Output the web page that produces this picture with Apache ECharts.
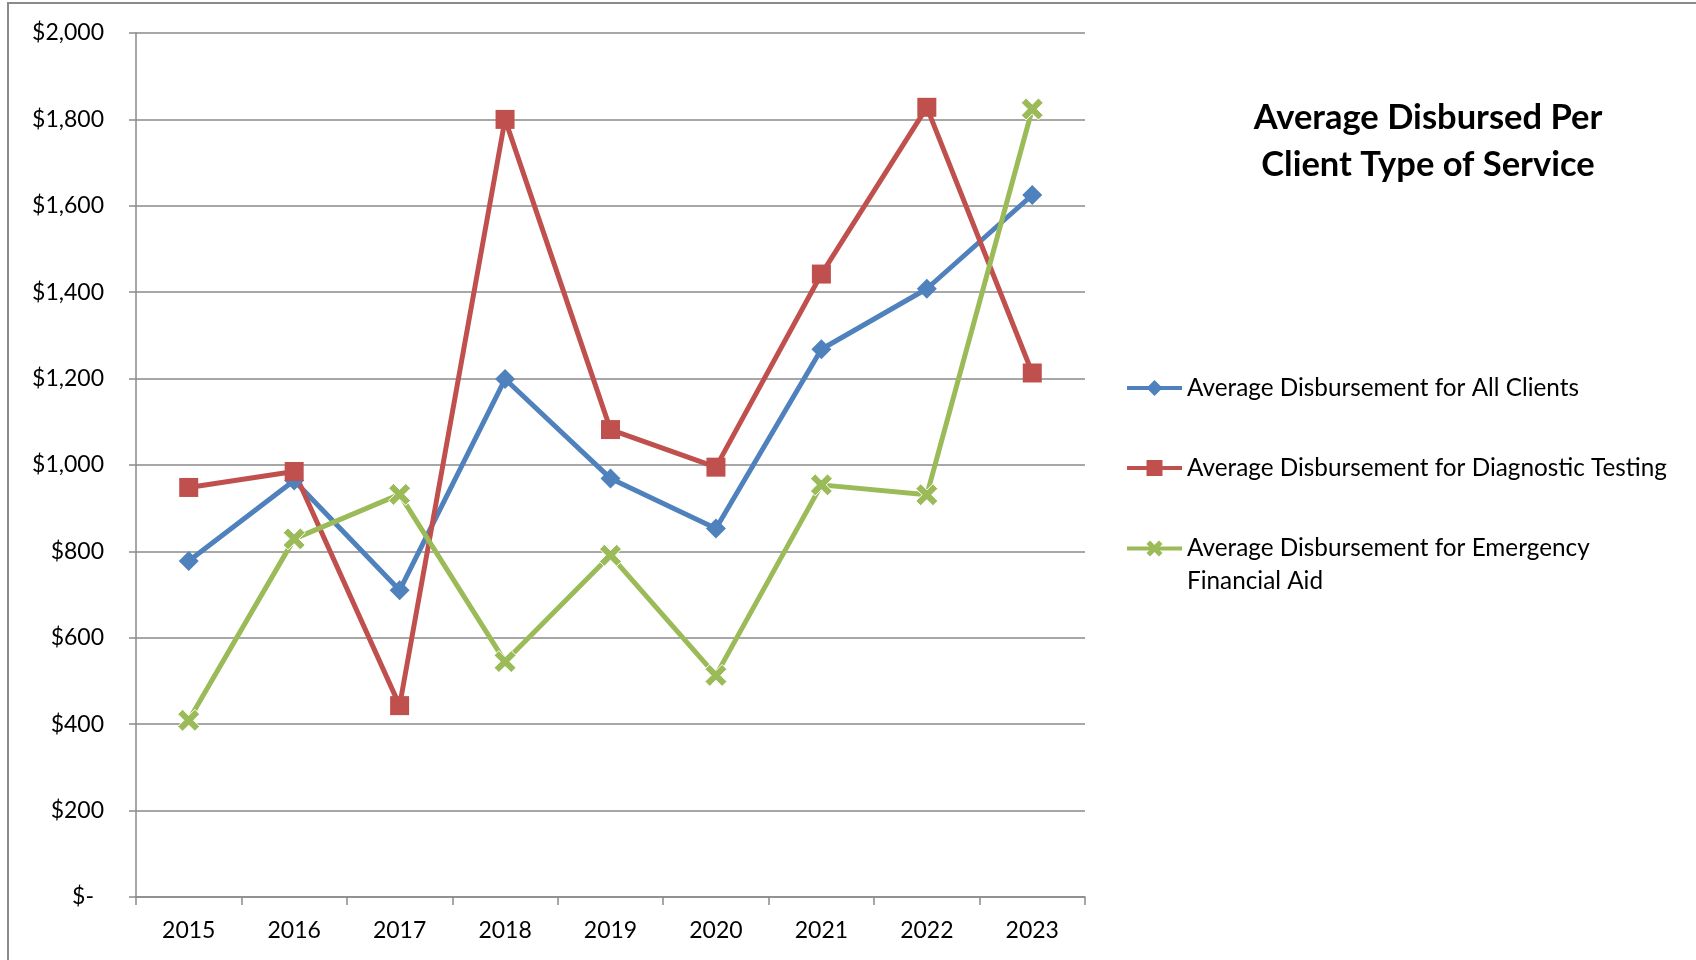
<!DOCTYPE html>
<html>
<head>
<meta charset="utf-8">
<title>Average Disbursed Per Client Type of Service</title>
<script src="https://cdn.jsdelivr.net/npm/echarts@6/dist/echarts.min.js"></script>
<style>
  html, body { margin: 0; padding: 0; background: #fff; }
  #chart { width: 1696px; height: 960px; }
</style>
</head>
<body>
<div id="chart"></div>
<script>
// data
const years = ['2015', '2016', '2017', '2018', '2019', '2020', '2021', '2022', '2023']
const allClients = [778, 964, 710, 1199, 969, 853, 1268, 1408, 1625]
const diagnosticTesting = [948, 985, 443, 1800, 1082, 995, 1442, 1828, 1213]
const emergencyAid = [409, 829, 932, 545, 791, 513, 954, 931, 1824]

const seriesNames = [
  'Average Disbursement for All Clients',
  'Average Disbursement for Diagnostic Testing',
  'Average Disbursement for Emergency Financial Aid'
]
const colors = ['#4F81BD', '#C0504D', '#9BBB59']

const FONT = 'Lato, "Open Sans", sans-serif'
const GRID_COLOR = '#8a8a8a'
// thick X marker (Excel style)
const xMark = 'path://M0,2.2 L2.2,0 L5,2.8 L7.8,0 L10,2.2 L7.2,5 L10,7.8 L7.8,10 L5,7.2 L2.2,10 L0,7.8 L2.8,5 Z'

const chart = echarts.init(document.getElementById('chart'))

function money(v) {
  if (v === 0) return '{z|$-}'
  return '$' + v.toLocaleString('en-US')
}

const legendText = { color: '#000', fontFamily: FONT, fontSize: 24.3, lineHeight: 20 }
const legendLine = { width: 4 }

const option = {
  animation: false,
  color: colors,
  graphic: [
    {
      // outer chart border
      type: 'rect',
      shape: { x: 8, y: 3, width: 1720, height: 1000 },
      style: { fill: 'none', stroke: GRID_COLOR, lineWidth: 2 },
      silent: true
    },
    {
      type: 'text',
      x: 1428,
      y: 95,
      style: {
        text: 'Average Disbursed Per\nClient Type of Service',
        align: 'center',
        verticalAlign: 'top',
        fontFamily: FONT,
        fontWeight: 'bold',
        fontSize: 34.5,
        lineHeight: 46.5,
        fill: '#000'
      }
    }
  ],
  legend: [
    {
      data: [seriesNames[0]],
      left: 1125, top: 376, padding: 0,
      itemWidth: 55, itemHeight: 20,
      lineStyle: legendLine,
      textStyle: legendText
    },
    {
      data: [seriesNames[1]],
      left: 1125, top: 456, padding: 0,
      itemWidth: 55, itemHeight: 20,
      lineStyle: legendLine,
      textStyle: legendText
    },
    {
      data: [seriesNames[2]],
      left: 1125, top: 499, padding: 0,
      itemWidth: 55, itemHeight: 20,
      lineStyle: legendLine,
      itemStyle: { borderWidth: 0 },
      // leading blank line keeps the first text line level with the icon
      formatter: () => ' \nAverage Disbursement for Emergency\nFinancial Aid',
      textStyle: { color: '#000', fontFamily: FONT, fontSize: 24.3, lineHeight: 33 }
    }
  ],
  grid: {
    left: 136,
    top: 33,
    right: 611,
    bottom: 63
  },
  xAxis: {
    type: 'category',
    data: years,
    boundaryGap: true,
    axisLine: { lineStyle: { color: GRID_COLOR, width: 1.5 } },
    axisTick: { show: true, length: 8, lineStyle: { color: GRID_COLOR, width: 1.5 } },
    axisLabel: { color: '#000', fontFamily: FONT, fontSize: 23, margin: 22 }
  },
  yAxis: {
    type: 'value',
    min: 0,
    max: 2000,
    interval: 200,
    axisLine: { show: true, lineStyle: { color: GRID_COLOR, width: 1.5 } },
    axisTick: { show: true, length: 7, lineStyle: { color: GRID_COLOR, width: 1.5 } },
    splitLine: { lineStyle: { color: GRID_COLOR, width: 1.5 } },
    axisLabel: {
      color: '#000', fontFamily: FONT, fontSize: 23, margin: 32,
      formatter: money,
      rich: { z: { fontFamily: FONT, fontSize: 23, color: '#000', padding: [0, 10, 0, 0] } }
    }
  },
  series: [
    {
      name: seriesNames[0],
      type: 'line',
      data: allClients,
      symbol: 'diamond',
      symbolSize: 20,
      lineStyle: { width: 5, color: colors[0] },
      itemStyle: { color: colors[0] }
    },
    {
      name: seriesNames[1],
      type: 'line',
      data: diagnosticTesting,
      symbol: 'rect',
      symbolSize: 19,
      lineStyle: { width: 5, color: colors[1] },
      itemStyle: { color: colors[1] }
    },
    {
      name: seriesNames[2],
      type: 'line',
      data: emergencyAid,
      symbol: xMark,
      symbolSize: 22,
      lineStyle: { width: 5, color: colors[2] },
      itemStyle: { color: colors[2], borderColor: '#fff', borderWidth: 1 }
    }
  ]
}

chart.setOption(option)
</script>
</body>
</html>
